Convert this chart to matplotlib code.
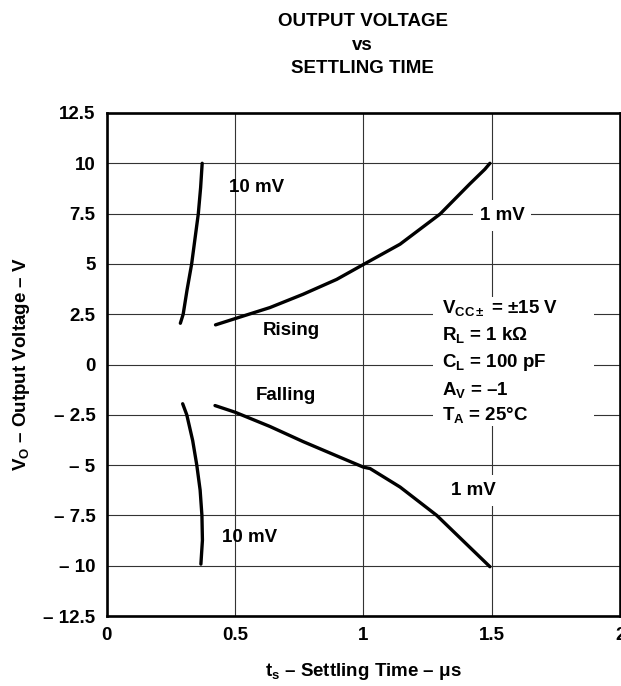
import matplotlib
matplotlib.use("Agg")
import matplotlib.pyplot as plt
from matplotlib.patches import Rectangle

# ── Data ──────────────────────────────────────────────────────────────────────
rise_10mv_t = [0.287, 0.298, 0.313, 0.331, 0.357, 0.366, 0.372]
rise_10mv_v = [2.05, 2.5, 3.7, 5.0, 7.5, 8.8, 10.0]

rise_1mv_t = [0.424, 0.50, 0.636, 0.765, 0.896, 1.00, 1.143, 1.299, 1.415, 1.473, 1.493]
rise_1mv_v = [1.97, 2.28, 2.83, 3.49, 4.23, 4.97, 5.98, 7.48, 8.98, 9.7, 10.0]

fall_10mv_t = [0.296, 0.312, 0.335, 0.351, 0.364, 0.371, 0.373, 0.367]
fall_10mv_v = [-1.95, -2.5, -3.78, -5.0, -6.24, -7.5, -8.73, -9.92]

fall_1mv_t = [0.422, 0.50, 0.636, 0.765, 0.896, 1.00, 1.026, 1.143, 1.286, 1.415, 1.493]
fall_1mv_v = [-2.04, -2.37, -3.08, -3.83, -4.54, -5.1, -5.17, -6.09, -7.5, -9.09, -10.05]

x_ticks = [0, 0.5, 1, 1.5, 2]
x_labels = ["0", "0.5", "1", "1.5", "2"]
y_ticks = [12.5, 10, 7.5, 5, 2.5, 0, -2.5, -5, -7.5, -10, -12.5]
y_labels = ["12.5", "10", "7.5", "5", "2.5", "0",
            "– 2.5", "– 5", "– 7.5", "– 10", "– 12.5"]

# ── Style ─────────────────────────────────────────────────────────────────────
plt.rcParams["font.family"] = ["Liberation Sans", "DejaVu Sans"]
plt.rcParams["font.weight"] = "bold"
plt.rcParams["mathtext.fontset"] = "custom"
plt.rcParams["mathtext.rm"] = "Liberation Sans:bold"
plt.rcParams["mathtext.it"] = "Liberation Sans:bold"
plt.rcParams["mathtext.bf"] = "Liberation Sans:bold"
plt.rcParams["mathtext.sf"] = "Liberation Sans:bold"

FS = 13.5
LW = 2.4

fig = plt.figure(figsize=(6.21, 6.86), dpi=100)
ax = fig.add_axes([0.1718, 0.102, 0.8267, 0.7333])

for t, v in [(rise_10mv_t, rise_10mv_v), (rise_1mv_t, rise_1mv_v),
             (fall_10mv_t, fall_10mv_v), (fall_1mv_t, fall_1mv_v)]:
    ax.plot(t, v, color="black", linewidth=LW, solid_capstyle="round",
            solid_joinstyle="round", zorder=5)

ax.set_xlim(0, 2)
ax.set_ylim(-12.5, 12.5)
ax.set_xticks(x_ticks)
ax.set_xticklabels(x_labels)
ax.set_yticks(y_ticks)
ax.set_yticklabels(y_labels)
ax.tick_params(length=0, labelsize=FS, pad=8)
for lab in ax.get_xticklabels() + ax.get_yticklabels():
    lab.set_fontweight("bold")
ax.grid(True, color="#333333", linewidth=0.8, zorder=0)
for s in ax.spines.values():
    s.set_linewidth(1.9)
    s.set_zorder(10)

# ── Annotations ───────────────────────────────────────────────────────────────
ax.text(0.584, 8.8, "10 mV", fontsize=FS, ha="center", va="center", zorder=6)
ax.text(1.54, 7.4, "1 mV", fontsize=FS, ha="center", va="center",
        bbox=dict(facecolor="white", edgecolor="none", pad=5), zorder=6)
ax.text(0.72, 1.7, "Rising", fontsize=FS, ha="center", va="center", zorder=6)
ax.text(0.70, -1.55, "Falling", fontsize=FS, ha="center", va="center", zorder=6)
ax.text(0.558, -8.6, "10 mV", fontsize=FS, ha="center", va="center", zorder=6)
ax.text(1.43, -6.25, "1 mV", fontsize=FS, ha="center", va="center",
        bbox=dict(facecolor="white", edgecolor="none", pad=5), zorder=6)

ax.add_patch(Rectangle((0.635, 0.378), 0.314, 0.256, transform=ax.transAxes,
                       facecolor="white", edgecolor="none", zorder=4))
params = [
    r"V$_{CC\pm}$ = $\pm$15 V",
    r"R$_{L}$ = 1 k$\Omega$",
    r"C$_{L}$ = 100 pF",
    r"A$_{V}$ = –1",
    r"T$_{A}$ = 25°C",
]
param_y = [2.54, 1.21, -0.12, -1.53, -2.77]
for s, y in zip(params, param_y):
    ax.text(1.305, y, s, fontsize=FS, ha="left", va="baseline", zorder=6)

# ── Titles and axis labels ────────────────────────────────────────────────────
fig.text(0.584, 0.969, "OUTPUT VOLTAGE", fontsize=FS, ha="center", va="center")
fig.text(0.584, 0.934, "vs", fontsize=FS, ha="center", va="center")
fig.text(0.584, 0.900, "SETTLING TIME", fontsize=FS, ha="center", va="center")

ax.set_xlabel(r"t$_{s}$ – Settling Time – μs", fontsize=FS, fontweight="bold",
              labelpad=12)
ax.set_ylabel(r"V$_{O}$ – Output Voltage – V", fontsize=FS, fontweight="bold",
              labelpad=8)

fig.savefig("out.png", dpi=100)
